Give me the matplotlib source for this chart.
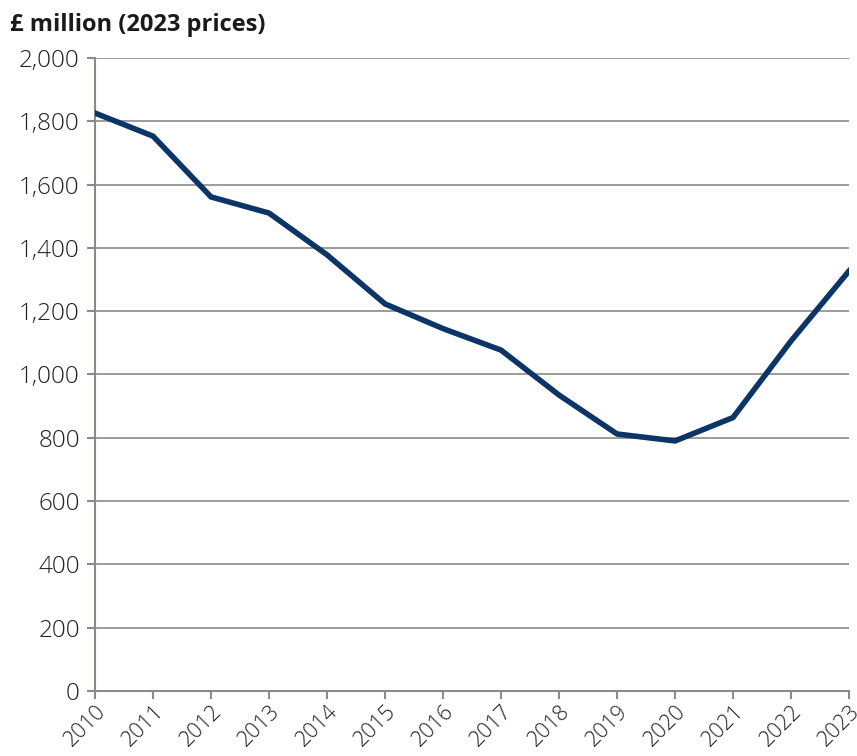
import matplotlib.pyplot as plt
from matplotlib.ticker import FuncFormatter

years = [2010, 2011, 2012, 2013, 2014, 2015, 2016, 2017, 2018, 2019, 2020, 2021, 2022, 2023]
spend = [1826, 1753, 1561, 1510, 1378, 1223, 1145, 1077, 935, 812, 790, 864, 1106, 1327]

plt.rcParams['font.family'] = ['Open Sans', 'DejaVu Sans']

fig = plt.figure(figsize=(8.57, 7.56), dpi=100)
ax = fig.add_axes([0.1109, 0.086, 0.8798, 0.8373])

grey = '#8c8a85'
ax.plot(years, spend, color='#0b3566', linewidth=4, solid_joinstyle='miter', zorder=3)

ax.set_xlim(2010, 2023)
ax.set_ylim(0, 2000)
ax.set_yticks(range(0, 2001, 200))
ax.set_xticks(years)
ax.yaxis.set_major_formatter(FuncFormatter(lambda v, p: f'{int(v):,}'))
ax.grid(axis='y', color=grey, linewidth=1.2)
ax.set_axisbelow(True)

for s in ['top', 'right']:
    ax.spines[s].set_visible(False)
for s in ['left', 'bottom']:
    ax.spines[s].set_color(grey)
    ax.spines[s].set_linewidth(1.5)

ax.tick_params(axis='both', color=grey, length=6, width=1.5, labelcolor='#222222')
ax.tick_params(axis='y', pad=5, labelsize=17.5)
ax.tick_params(axis='x', pad=1, labelsize=15.5)
for lab in ax.get_xticklabels():
    lab.set_rotation(45)
    lab.set_ha('right')
    lab.set_rotation_mode('anchor')
for lab in ax.get_xticklabels() + ax.get_yticklabels():
    lab.set_fontweight('light')

fig.text(0.012, 0.967, '£ million (2023 prices)', fontsize=17, fontweight='bold', color='#1a1a1a', va='center')

fig.savefig('out.png', dpi=100)
